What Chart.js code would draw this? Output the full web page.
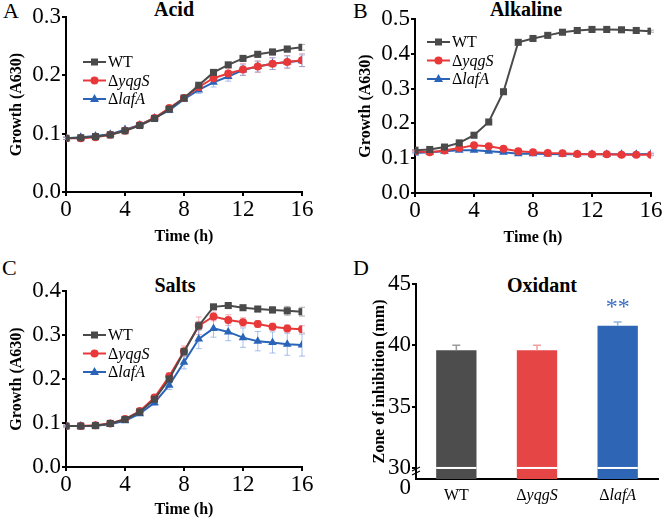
<!DOCTYPE html>
<html>
<head>
<meta charset="utf-8">
<script src="https://cdn.jsdelivr.net/npm/chart.js@4.4.0/dist/chart.umd.min.js"></script>
<style>
  body { margin: 0; background: #fff; }
  #fig { position: relative; width: 666px; height: 519px; font-family: "Liberation Serif", serif; color: #000; }
  #fig canvas { position: absolute; }
  .lbl { position: absolute; font-size: 22px; line-height: 1; }
  .ttl { position: absolute; font-size: 20px; font-weight: bold; line-height: 1; transform: translateX(-50%); white-space: nowrap; }
</style>
</head>
<body>
<div id="fig">
  <div class="lbl" style="left:3px;top:0px">A</div>
  <div class="lbl" style="left:353px;top:0px">B</div>
  <div class="lbl" style="left:2px;top:257px">C</div>
  <div class="lbl" style="left:353px;top:257px">D</div>
  <div class="ttl" style="left:174px;top:-1px">Acid</div>
  <div class="ttl" style="left:526px;top:-1px">Alkaline</div>
  <div class="ttl" style="left:175px;top:275px">Salts</div>
  <div class="ttl" style="left:542px;top:275px">Oxidant</div>
  <canvas id="cA" width="333" height="259" style="left:0;top:0"></canvas>
  <canvas id="cB" width="333" height="259" style="left:333px;top:0"></canvas>
  <canvas id="cC" width="333" height="264" style="left:0;top:255px"></canvas>
  <canvas id="cD" width="333" height="264" style="left:333px;top:255px"></canvas>
</div>
<script>
const FONT = '"Liberation Serif", serif';

const hours = [0, 1, 2, 3, 4, 5, 6, 7, 8, 9, 10, 11, 12, 13, 14, 15, 16];
const seriesNames = ['WT', 'ΔyqgS', 'ΔlafA'];

// A - acid
const acidWT    = [0.092, 0.093, 0.095, 0.098, 0.105, 0.114, 0.126, 0.142, 0.161, 0.183, 0.205, 0.218, 0.229, 0.236, 0.240, 0.245, 0.248];
const acidYqgS  = [0.092, 0.092, 0.094, 0.098, 0.105, 0.115, 0.127, 0.144, 0.161, 0.180, 0.195, 0.203, 0.210, 0.215, 0.220, 0.223, 0.226];
const acidLafA  = [0.092, 0.094, 0.096, 0.099, 0.107, 0.115, 0.127, 0.140, 0.159, 0.175, 0.188, 0.198, 0.209, 0.215, 0.220, 0.223, 0.225];
const acidWTErr   = [0.002, 0.002, 0.002, 0.002, 0.002, 0.003, 0.003, 0.003, 0.003, 0.004, 0.004, 0.004, 0.004, 0.005, 0.005, 0.005, 0.005];
const acidYqgSErr = [0.002, 0.002, 0.002, 0.002, 0.003, 0.003, 0.003, 0.004, 0.004, 0.006, 0.008, 0.009, 0.010, 0.010, 0.010, 0.011, 0.011];
const acidLafAErr = [0.002, 0.002, 0.002, 0.002, 0.003, 0.003, 0.003, 0.004, 0.004, 0.006, 0.008, 0.008, 0.009, 0.009, 0.010, 0.010, 0.010];

// B - alkaline
const alkWT     = [0.123, 0.125, 0.132, 0.144, 0.166, 0.204, 0.291, 0.433, 0.444, 0.453, 0.462, 0.467, 0.470, 0.470, 0.469, 0.467, 0.465];
const alkYqgS   = [0.120, 0.117, 0.122, 0.129, 0.137, 0.134, 0.127, 0.120, 0.117, 0.115, 0.114, 0.112, 0.111, 0.111, 0.110, 0.110, 0.110];
const alkLafA   = [0.115, 0.117, 0.120, 0.123, 0.123, 0.120, 0.117, 0.113, 0.113, 0.112, 0.111, 0.111, 0.111, 0.111, 0.111, 0.111, 0.112];
const alkErr    = [0.002, 0.002, 0.002, 0.002, 0.002, 0.002, 0.003, 0.003, 0.003, 0.003, 0.003, 0.003, 0.003, 0.003, 0.003, 0.003, 0.003];

// C - salts
const saltWT    = [0.093, 0.093, 0.094, 0.099, 0.108, 0.125, 0.154, 0.200, 0.262, 0.321, 0.364, 0.367, 0.362, 0.359, 0.357, 0.355, 0.353];
const saltYqgS  = [0.093, 0.093, 0.095, 0.099, 0.109, 0.127, 0.158, 0.206, 0.263, 0.321, 0.342, 0.334, 0.329, 0.325, 0.319, 0.315, 0.313];
const saltLafA  = [0.093, 0.093, 0.094, 0.097, 0.105, 0.121, 0.146, 0.186, 0.238, 0.291, 0.315, 0.307, 0.294, 0.286, 0.283, 0.279, 0.277];
const saltWTErr   = [0.002, 0.002, 0.002, 0.002, 0.003, 0.003, 0.004, 0.005, 0.008, 0.010, 0.004, 0.004, 0.005, 0.006, 0.007, 0.010, 0.010];
const saltYqgSErr = [0.002, 0.002, 0.002, 0.002, 0.003, 0.004, 0.005, 0.008, 0.012, 0.020, 0.010, 0.012, 0.010, 0.008, 0.008, 0.008, 0.008];
const saltLafAErr = [0.002, 0.002, 0.002, 0.002, 0.003, 0.004, 0.006, 0.010, 0.015, 0.022, 0.020, 0.020, 0.022, 0.022, 0.024, 0.025, 0.025];

// D - oxidant
const oxValues = [39.6, 39.6, 41.6];
const oxErr = [0.4, 0.4, 0.3];
const oxTicks = [29.1, 30, 35, 40, 45];

const lineColors = ['#4a4a4a', '#e8383a', '#2a64b8'];
const errColors = ['rgba(120,120,120,0.6)', 'rgba(235,120,130,0.6)', 'rgba(110,150,220,0.6)'];
const barColors = ['#4d4d4d', '#e64545', '#2e66b5'];
const barErrColors = ['#9a9a9a', '#f0a0a0', '#8fb0e0'];
const pointStyles = ['rect', 'circle', 'triangle'];
const pointRadii = [5, 4, 5];

function drawMixed(ctx, text, x, y, align, size) {
  const parts = text.startsWith('Δ') ? [['Δ', ''], [text.slice(1), 'italic ']] : [[text, '']];
  let total = 0;
  parts.forEach(p => { ctx.font = p[1] + size + 'px ' + FONT; total += ctx.measureText(p[0]).width; });
  let cx = align === 'center' ? x - total / 2 : x;
  ctx.textAlign = 'left';
  ctx.textBaseline = 'middle';
  parts.forEach(p => {
    ctx.font = p[1] + size + 'px ' + FONT;
    ctx.fillText(p[0], cx, y);
    cx += ctx.measureText(p[0]).width;
  });
}

function drawMarker(ctx, style, x, y, color) {
  ctx.fillStyle = color;
  ctx.beginPath();
  if (style === 'rect') ctx.rect(x - 3.5, y - 3.5, 7, 7);
  else if (style === 'circle') ctx.arc(x, y, 4, 0, Math.PI * 2);
  else { ctx.moveTo(x, y - 5); ctx.lineTo(x - 4.5, y + 3); ctx.lineTo(x + 4.5, y + 3); ctx.closePath(); }
  ctx.fill();
}

const errorBars = {
  id: 'errorBars',
  beforeDatasetsDraw(chart) {
    const ctx = chart.ctx, ys = chart.scales.y;
    chart.data.datasets.forEach((ds, di) => {
      const meta = chart.getDatasetMeta(di);
      ctx.save();
      ctx.strokeStyle = ds.errorColor;
      ctx.lineWidth = 1;
      meta.data.forEach((pt, i) => {
        const v = ds.data[i].y, e = ds.errors[i];
        const top = ys.getPixelForValue(v + e), bot = ys.getPixelForValue(v - e);
        ctx.beginPath();
        ctx.moveTo(pt.x, top); ctx.lineTo(pt.x, bot);
        ctx.moveTo(pt.x - 3, top); ctx.lineTo(pt.x + 3, top);
        ctx.moveTo(pt.x - 3, bot); ctx.lineTo(pt.x + 3, bot);
        ctx.stroke();
      });
      ctx.restore();
    });
  }
};

const panelLegend = {
  id: 'panelLegend',
  afterDraw(chart, args, opts) {
    const ctx = chart.ctx, a = chart.chartArea;
    chart.data.datasets.forEach((ds, k) => {
      const x = a.left + opts.dx, y = a.top + opts.dy + k * 18.5;
      ctx.save();
      ctx.strokeStyle = ds.borderColor;
      ctx.lineWidth = 2;
      ctx.beginPath(); ctx.moveTo(x, y); ctx.lineTo(x + 23, y); ctx.stroke();
      drawMarker(ctx, ds.pointStyle, x + 11.5, y, ds.borderColor);
      ctx.fillStyle = '#000';
      drawMixed(ctx, ds.label, x + 25, y + 1, 'left', 16);
      ctx.restore();
    });
  }
};

function axisBase() {
  return {
    grid: { drawOnChartArea: false, color: '#000', lineWidth: 2, tickLength: 4 },
    border: { color: '#000', width: 2 }
  };
}

function growthChart(id, series, yMax, pad, xHeight, legendPos) {
  new Chart(document.getElementById(id), {
    type: 'line',
    data: {
      datasets: series.map((s, k) => ({
        label: seriesNames[k],
        data: hours.map((h, i) => ({ x: h, y: s[0][i] })),
        errors: s[1],
        errorColor: errColors[k],
        borderColor: lineColors[k],
        backgroundColor: lineColors[k],
        pointStyle: pointStyles[k],
        pointRadius: pointRadii[k],
        pointBorderWidth: 0,
        borderWidth: 2
      }))
    },
    options: {
      responsive: false,
      animation: false,
      events: [],
      layout: { padding: pad },
      plugins: { legend: { display: false }, tooltip: { enabled: false }, panelLegend: legendPos },
      scales: {
        x: Object.assign(axisBase(), {
          type: 'linear', min: 0, max: 16,
          ticks: { stepSize: 4, color: '#000', padding: 0, maxRotation: 0, font: { family: FONT, size: 23 } },
          title: { display: true, text: 'Time (h)', color: '#000', padding: 0, font: { family: FONT, size: 16, weight: 'bold' } },
          afterFit(s) { s.height = xHeight; s.paddingLeft = 0; s.paddingRight = 0; }
        }),
        y: Object.assign(axisBase(), {
          min: 0, max: yMax,
          ticks: { stepSize: 0.1, color: '#000', padding: 1, font: { family: FONT, size: 23 }, callback: v => v.toFixed(1) },
          title: { display: true, text: 'Growth (A630)', color: '#000', padding: { top: 7, bottom: 0 }, font: { family: FONT, size: 16, weight: 'bold' } },
          afterFit(s) { s.width = 66; s.paddingTop = 0; s.paddingBottom = 0; }
        })
      }
    },
    plugins: [errorBars, panelLegend]
  });
}

growthChart('cA', [[acidWT, acidWTErr], [acidYqgS, acidYqgSErr], [acidLafA, acidLafAErr]], 0.3,
  { left: 0, top: 17, right: 31, bottom: 13 }, 54, { dx: 17, dy: 45 });
growthChart('cB', [[alkWT, alkErr], [alkYqgS, alkErr], [alkLafA, alkErr]], 0.5,
  { left: 16, top: 19, right: 15, bottom: 12 }, 54, { dx: 12, dy: 23 });
growthChart('cC', [[saltWT, saltWTErr], [saltYqgS, saltYqgSErr], [saltLafA, saltLafAErr]], 0.4,
  { left: 0, top: 36, right: 31, bottom: 0 }, 52, { dx: 17, dy: 44 });

// bar extras: white break line, upper error bars, stars, axis break, x labels
const barExtras = {
  id: 'barExtras',
  afterDatasetsDraw(chart) {
    const ctx = chart.ctx, ys = chart.scales.y, xs = chart.scales.x;
    const meta = chart.getDatasetMeta(0);
    const y30 = ys.getPixelForValue(30);
    ctx.save();
    meta.data.forEach((bar, i) => {
      ctx.fillStyle = '#fff';
      ctx.fillRect(bar.x - bar.width / 2, y30 - 1, bar.width, 2);
      const top = ys.getPixelForValue(oxValues[i] + oxErr[i]);
      ctx.strokeStyle = barErrColors[i];
      ctx.lineWidth = 1.5;
      ctx.beginPath();
      ctx.moveTo(bar.x, bar.y); ctx.lineTo(bar.x, top);
      ctx.moveTo(bar.x - 4, top); ctx.lineTo(bar.x + 4, top);
      ctx.stroke();
    });
    const last = meta.data[2];
    ctx.fillStyle = '#3a6fc4';
    ctx.font = '24px ' + FONT;
    ctx.textAlign = 'center';
    ctx.textBaseline = 'middle';
    ctx.fillText('**', last.x, ys.getPixelForValue(oxValues[2] + oxErr[2]) - 14);
    ctx.restore();
  },
  afterDraw(chart) {
    const ctx = chart.ctx, ys = chart.scales.y, xs = chart.scales.x, a = chart.chartArea;
    const y30 = ys.getPixelForValue(30);
    ctx.save();
    ctx.strokeStyle = '#000';
    ctx.lineWidth = 1.2;
    ctx.beginPath();
    ctx.moveTo(a.left - 4, y30 + 3); ctx.lineTo(a.left + 4, y30 - 1);
    ctx.moveTo(a.left - 4, y30 + 7); ctx.lineTo(a.left + 4, y30 + 3);
    ctx.stroke();
    ctx.fillStyle = '#000';
    chart.data.labels.forEach((lab, i) => {
      drawMixed(ctx, lab, xs.getPixelForValue(i), a.bottom + 17, 'center', 16);
    });
    ctx.restore();
  }
};

new Chart(document.getElementById('cD'), {
  type: 'bar',
  data: {
    labels: seriesNames,
    datasets: [{
      data: oxValues,
      backgroundColor: barColors,
      borderWidth: 0,
      barPercentage: 0.5,
      categoryPercentage: 1
    }]
  },
  options: {
    responsive: false,
    animation: false,
    events: [],
    layout: { padding: { left: 0, top: 29, right: 8, bottom: 0 } },
    plugins: { legend: { display: false }, tooltip: { enabled: false } },
    scales: {
      x: {
        ticks: { display: false },
        grid: { display: false },
        border: { color: '#000', width: 2 },
        afterFit(s) { s.height = 40; s.paddingLeft = 0; s.paddingRight = 0; }
      },
      y: {
        min: 29.1, max: 45,
        afterBuildTicks(s) { s.ticks = oxTicks.map(v => ({ value: v })); },
        ticks: {
          color: '#000', padding: 1,
          font: c => ({ family: FONT, size: 23, lineHeight: (c.tick && c.tick.value < 30) ? 0.8 : 1.2 }),
          callback: v => v < 30 ? ['', '0'] : String(v)
        },
        grid: {
          drawOnChartArea: false, lineWidth: 2, tickLength: 4,
          color: c => (c.tick && c.tick.value < 30) ? 'rgba(0,0,0,0)' : '#000'
        },
        border: { color: '#000', width: 2 },
        title: { display: true, text: 'Zone of inhibition (mm)', color: '#000', padding: { top: 37, bottom: 0 }, font: { family: FONT, size: 16, weight: 'bold' } },
        afterFit(s) { s.width = 83; s.paddingTop = 0; s.paddingBottom = 0; }
      }
    }
  },
  plugins: [barExtras]
});
</script>
</body>
</html>
